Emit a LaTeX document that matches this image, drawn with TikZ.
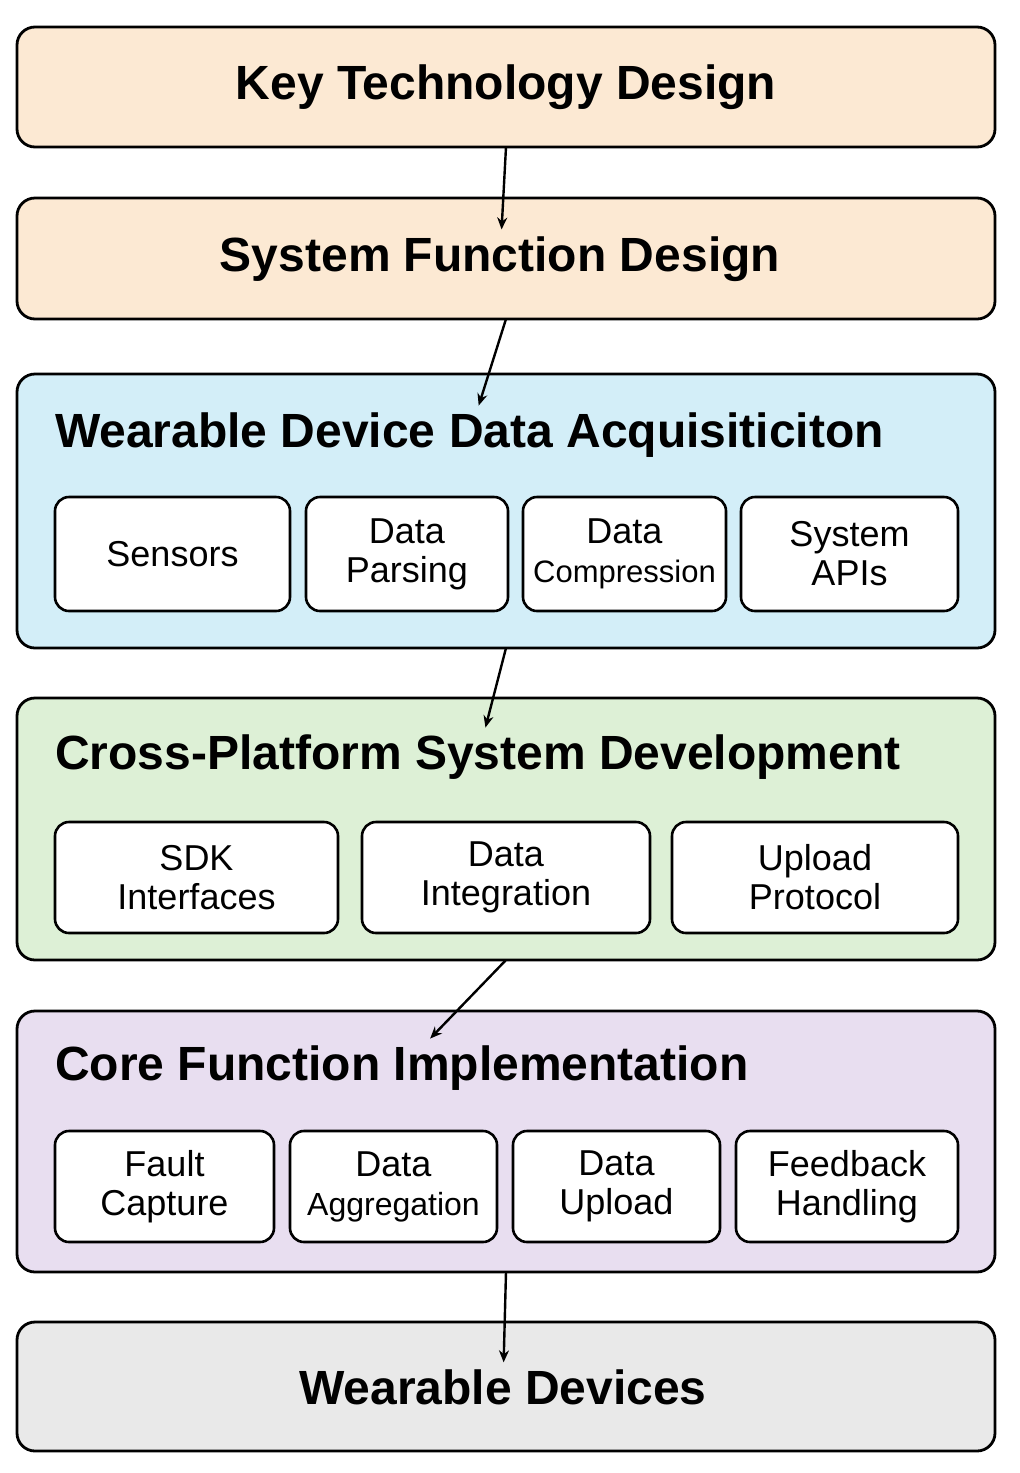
\documentclass[tikz,border=0pt]{standalone}
\usepackage{fontspec}
\setmainfont{Liberation Sans}
\usetikzlibrary{arrows.meta}
\definecolor{peach}{HTML}{FCE9D3}
\definecolor{lblue}{HTML}{D3EEF8}
\definecolor{lgreen}{HTML}{DDF0D6}
\definecolor{lpurp}{HTML}{E8DEF0}
\definecolor{lgrey}{HTML}{E9E9E9}
\begin{document}
\begin{tikzpicture}[x=0.5pt,y=-0.5pt,
  big/.style={draw,line width=1.4pt,rounded corners=9pt},
  sub/.style={draw,line width=1.3pt,rounded corners=7pt,fill=white},
  ttl/.style={font=\bfseries\fontsize{24}{28}\selectfont},
  stxt/.style={font=\fontsize{18}{19.5}\selectfont,align=center},
  arr/.style={-{Stealth[length=6pt,width=5pt]},line width=1.2pt}]
\useasboundingbox (0,0) rectangle (1019,1473);
\newcommand{\bx}[5]{\draw[big,fill=#5] (17,#2) rectangle (995,#3); \node (#1) at (506,{(#2+#3)/2}) [minimum width=489pt,minimum height={(#3-#2)*0.5pt}] {}; \coordinate (#1t) at (506,#2); \coordinate (#1b) at (506,#3);}
\newcommand{\sbx}[6]{\draw[sub] (#2,#4) rectangle (#3,#5); \node[stxt] (#1) at ({(#2+#3)/2},{(#4+#5)/2}) {#6};}
\bx{a}{27}{147}{}{peach}
\node[ttl] (at) at (506,87) {Key Technology Design};
\bx{b}{198}{319}{}{peach}
\node[ttl] (bt) at (500,259) {System Function Design};
\bx{c}{374}{648}{}{lblue}
\node[ttl,anchor=west] (ct) at (48,435) {Wearable Device Data Acquisiticiton};
\sbx{c1}{55}{290}{497}{611}{Sensors}
\sbx{c2}{306}{508}{497}{611}{Data\\Parsing}
\sbx{c3}{523}{726}{497}{611}{Data\\{\fontsize{15.5}{19.5}\selectfont Compression}}
\sbx{c4}{741}{958}{497}{611}{System\\APIs}
\bx{d}{698}{960}{}{lgreen}
\node[ttl,anchor=west] (dt) at (48,757) {Cross-Platform System Development};
\sbx{d1}{55}{338}{822}{933}{SDK\\Interfaces}
\sbx{d2}{362}{650}{822}{933}{Data\\Integration}
\sbx{d3}{672}{958}{822}{933}{Upload\\Protocol}
\bx{e}{1011}{1272}{}{lpurp}
\node[ttl,anchor=west] (et) at (48,1068) {Core Function Implementation};
\sbx{e1}{55}{274}{1131}{1242}{Fault\\Capture}
\sbx{e2}{290}{497}{1131}{1242}{Data\\{\fontsize{16}{19.5}\selectfont Aggregation}}
\sbx{e3}{513}{720}{1131}{1242}{Data\\Upload}
\sbx{e4}{736}{958}{1131}{1242}{Feedback\\Handling}
\bx{f}{1322}{1451}{}{lgrey}
\node[ttl] (ft) at (503,1387) {Wearable Devices};
\draw[arr] (ab) -- (bt);
\draw[arr] (bb) -- (ct);
\draw[arr] (cb) -- (dt);
\draw[arr] (db) -- (et);
\draw[arr] (eb) -- (ft);
\end{tikzpicture}
\end{document}
